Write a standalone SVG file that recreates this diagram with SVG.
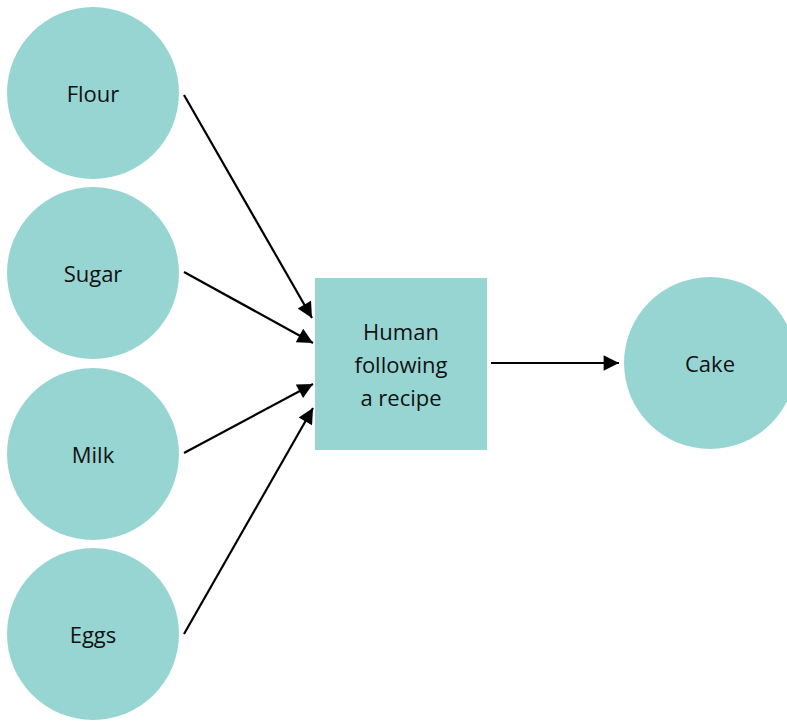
<svg xmlns="http://www.w3.org/2000/svg" width="787" height="721" viewBox="0 0 787 721">
<style>
.n{fill:#97d5d3}
.t{font-family:"Open Sans","Noto Sans","Liberation Sans",sans-serif;font-size:22px;fill:#111;text-anchor:middle;dominant-baseline:central}
.e{stroke:#000;stroke-width:2.2;fill:none;marker-end:url(#ah)}
</style>
<defs>
<marker id="ah" viewBox="0 0 10 10" refX="10" refY="5" markerWidth="8.5" markerHeight="7" markerUnits="strokeWidth" orient="auto">
<path d="M0,0L10,5L0,10z" fill="#000"/>
</marker>
</defs>
<rect width="787" height="721" fill="#fff"/>
<g id="flour"><circle class="n" cx="93" cy="93" r="86"/><text class="t" x="93" y="93">Flour</text></g>
<g id="sugar"><circle class="n" cx="93" cy="273" r="86"/><text class="t" x="93" y="273">Sugar</text></g>
<g id="milk"><circle class="n" cx="93" cy="454" r="86"/><text class="t" x="93" y="454">Milk</text></g>
<g id="eggs"><circle class="n" cx="93" cy="634" r="86"/><text class="t" x="93" y="634">Eggs</text></g>
<g id="human"><rect class="n" x="315" y="278" width="172" height="172"/><text class="t" x="401" y="331">Human</text><text class="t" x="401" y="364">following</text><text class="t" x="401" y="397">a recipe</text></g>
<g id="cake"><circle class="n" cx="710" cy="363" r="86"/><text class="t" x="710" y="363">Cake</text></g>
<g id="edges">
<path class="e" d="M184,95L312,318"/>
<path class="e" d="M184,272L313,343"/>
<path class="e" d="M184,453L313,384"/>
<path class="e" d="M184,634L313,408"/>
<path class="e" d="M491,363L619,363"/>
</g>
</svg>
